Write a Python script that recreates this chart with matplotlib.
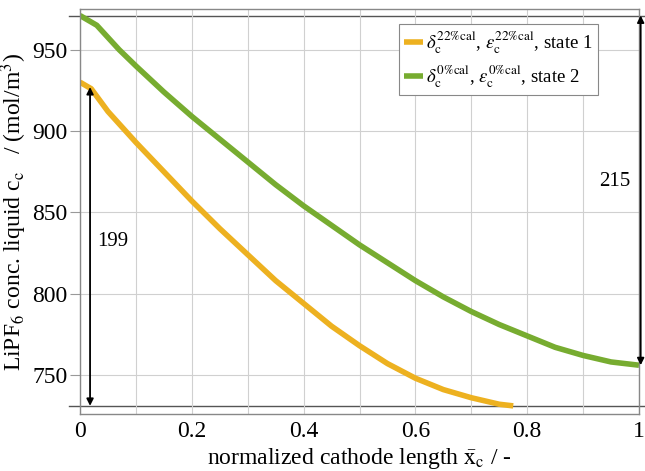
import numpy as np
import matplotlib
matplotlib.use('Agg')
import matplotlib.pyplot as plt

plt.rcParams['font.family'] = ['Liberation Serif', 'DejaVu Serif']
plt.rcParams['mathtext.fontset'] = 'stix'

# normalized cathode length
x_state1 = [0.0, 0.02, 0.05, 0.1, 0.15, 0.2, 0.25, 0.3, 0.35, 0.4, 0.45, 0.5,
            0.55, 0.6, 0.65, 0.7, 0.75, 0.775]
c_state1 = [930, 926, 912, 893, 875, 857, 840, 824, 808, 794, 780, 768,
            757, 748, 741, 736, 732, 731]

x_state2 = [0.0, 0.03, 0.07, 0.1, 0.15, 0.2, 0.25, 0.3, 0.35, 0.4, 0.45, 0.5,
            0.55, 0.6, 0.65, 0.7, 0.75, 0.8, 0.85, 0.9, 0.95, 1.0]
c_state2 = [971, 965, 950, 940, 924, 909, 895, 881, 867, 854, 842, 830,
            819, 808, 798, 789, 781, 774, 767, 762, 758, 756]

delta_1 = 199
delta_2 = 215

label_1 = r'$\delta_\mathrm{c}^{22\%\mathrm{cal}}$, $\epsilon_\mathrm{c}^{22\%\mathrm{cal}}$, state 1'
label_2 = r'$\delta_\mathrm{c}^{0\%\mathrm{cal}}$, $\epsilon_\mathrm{c}^{0\%\mathrm{cal}}$, state 2'

fig = plt.figure(figsize=(6.45, 4.71), dpi=100)
ax = fig.add_axes([80/645, 57/471, 559/645, 405/471])

ax.plot(x_state1, c_state1, color='#EDB120', lw=4, label=label_1, solid_capstyle='butt')
ax.plot(x_state2, c_state2, color='#77AC30', lw=4, label=label_2, solid_capstyle='butt')

# reference lines at start / end values
for yv in [c_state2[0], c_state1[-1]]:
    ax.plot([-0.02, 1.01], [yv, yv], color='#555555', lw=1, clip_on=False, zorder=1)

# difference arrows
arrow_props = dict(arrowstyle='<|-|>', color='black', lw=1.3,
                   mutation_scale=10, shrinkA=0, shrinkB=0)
ax.annotate('', xy=(0.018, c_state1[-1]), xytext=(0.018, c_state1[0] - 3),
            arrowprops=arrow_props, annotation_clip=False)
ax.text(0.03, 832, str(delta_1), fontsize=15, va='center', ha='left')
ax.annotate('', xy=(1.003, c_state2[-1]), xytext=(1.003, c_state2[0]),
            arrowprops=arrow_props, annotation_clip=False)
ax.text(0.985, 869, str(delta_2), fontsize=15, va='center', ha='right')

ax.set_xlim(0, 1)
ax.set_ylim(726, 975)
ax.set_xticks(np.arange(0, 1.01, 0.1), minor=True)
ax.set_xticks([0, 0.2, 0.4, 0.6, 0.8, 1])
ax.set_xticklabels(['0', '0.2', '0.4', '0.6', '0.8', '1'])
ax.set_yticks([750, 800, 850, 900, 950])
ax.grid(True, which='both', color='#d0d0d0', lw=0.8)
ax.tick_params(axis='x', which='both', length=0, labelsize=17, pad=5)
ax.tick_params(axis='y', length=7, color='#999999', labelsize=17, pad=2)
for s in ax.spines.values():
    s.set_color('#888888')
    s.set_linewidth(1)

ax.set_xlabel(r'normalized cathode length $\bar{\mathrm{x}}_\mathrm{c}$ / -', fontsize=17, labelpad=3)
ax.set_ylabel(r'LiPF$_6$ conc. liquid c$_\mathrm{c}$   / (mol/m$^3$)', fontsize=17, labelpad=2)

leg = ax.legend(loc='upper right', bbox_to_anchor=(0.943, 0.985), fontsize=13.5,
                fancybox=False, edgecolor='#888888', framealpha=1,
                handlelength=1.0, handletextpad=0.2, borderpad=0.25, labelspacing=0.45)
leg.get_frame().set_linewidth(0.8)

fig.savefig('out.png', dpi=100)
